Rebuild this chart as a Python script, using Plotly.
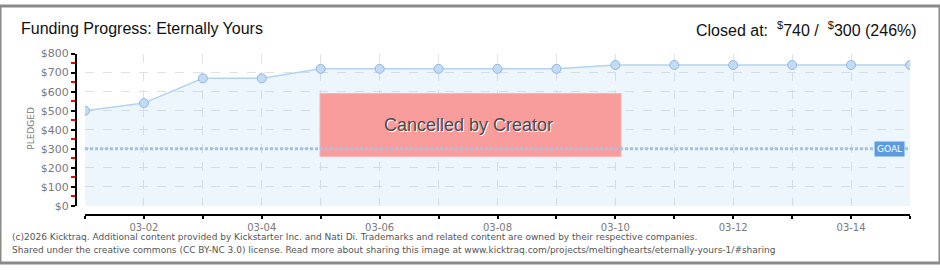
import plotly.graph_objects as go

# ---- data ----
dates = ["2026-03-01", "2026-03-02", "2026-03-03", "2026-03-04", "2026-03-05",
         "2026-03-06", "2026-03-07", "2026-03-08", "2026-03-09", "2026-03-10",
         "2026-03-11", "2026-03-12", "2026-03-13", "2026-03-14", "2026-03-15"]
pledged = [500, 540, 670, 670, 720, 720, 720, 720, 720, 740, 740, 740, 740, 740, 740]
goal = 300
closed_amount = 740
percent = 246
title_text = "Funding Progress: Eternally Yours"
status_text = "Cancelled by Creator"
footer1 = ("(c)2026 Kicktraq. Additional content provided by Kickstarter Inc. and Nati Di. "
           "Trademarks and related content are owned by their respective companies.")
footer2 = ("Shared under the creative commons (CC BY-NC 3.0) license. Read more about sharing "
           "this image at www.kicktraq.com/projects/meltinghearts/eternally-yours-1/#sharing")

W, H = 940, 270
DAY = 86400000
narrow = "Liberation Sans, Arial, sans-serif"
small = "DejaVu Sans, Verdana, sans-serif"

def px_x(p):
    return p / W

def px_y(p):
    return 1 - p / H

fig = go.Figure()

# main area + line
fig.add_trace(go.Scatter(
    x=dates, y=pledged, mode="lines+markers", fill="tozeroy",
    fillcolor="rgba(150,195,245,0.17)",
    line=dict(color="#b3d3f2", width=1.5),
    marker=dict(size=9, color="#c2dbf6", line=dict(color="#93b7de", width=1)),
    showlegend=False, hoverinfo="skip",
))
# dummy traces to bring up the offset tick axes
fig.add_trace(go.Scatter(x=dates, y=pledged, xaxis="x2", yaxis="y", mode="none",
                         showlegend=False, hoverinfo="skip"))
fig.add_trace(go.Scatter(x=dates, y=pledged, xaxis="x", yaxis="y2", mode="none",
                         showlegend=False, hoverinfo="skip"))

xdom = [px_x(85), px_x(910)]
ydom = [px_y(210), px_y(50)]
xr = [dates[0], dates[-1]]
yr = [0, 800]

fig.update_layout(
    width=W, height=H,
    margin=dict(l=0, r=0, t=0, b=0),
    paper_bgcolor="white", plot_bgcolor="white",
    xaxis=dict(domain=xdom, range=xr, type="date", showgrid=True, griddash="dash",
               gridcolor="#e1e1e1", gridwidth=1, dtick=DAY, tick0=dates[0],
               showticklabels=False, ticks="", showline=False, zeroline=False),
    yaxis=dict(domain=ydom, range=yr, showgrid=True, griddash="dash",
               gridcolor="#e1e1e1", gridwidth=1, dtick=100,
               showticklabels=False, ticks="", showline=False, zeroline=False),
    xaxis2=dict(overlaying="x", anchor="free", position=px_y(220), range=xr, type="date",
                showgrid=False, zeroline=False, showline=True, linecolor="black", linewidth=2,
                ticks="outside", ticklen=3, tickcolor="black", tickwidth=2,
                dtick=2 * DAY, tick0=dates[1], tickformat="%m-%d",
                tickfont=dict(family=small, size=10, color="#7a7a7a"),
                minor=dict(dtick=DAY, tick0=dates[0], ticks="outside", ticklen=3,
                           tickcolor="black", tickwidth=2, showgrid=False)),
    yaxis2=dict(overlaying="y", anchor="free", position=px_x(76), side="left", range=yr,
                showgrid=False, zeroline=False, showline=True, linecolor="black", linewidth=2,
                ticks="outside", ticklen=4, tickcolor="black", tickwidth=2,
                dtick=100, tickprefix="$",
                tickfont=dict(family=small, size=11, color="#7a7a7a"),
                minor=dict(dtick=50, ticks="outside", ticklen=4, tickcolor="red",
                           tickwidth=2, showgrid=False)),
)

shapes = [
    # cancelled box
    dict(type="rect", xref="paper", yref="paper",
         x0=px_x(320), x1=px_x(621), y0=px_y(158), y1=px_y(92),
         fillcolor="#f99c9c", line=dict(color="#f7b3b3", width=1), layer="above"),
    # goal line
    dict(type="line", xref="x", yref="y", x0=dates[0], x1=dates[-1], y0=goal, y1=goal,
         line=dict(color="#a3c2e6", width=3, dash="3px,2px"), layer="above"),
    # outer frame
    dict(type="rect", xref="paper", yref="paper", x0=0, x1=1, y0=0, y1=1,
         line=dict(color="#8a8a8a", width=3), fillcolor="rgba(0,0,0,0)", layer="above"),
]
fig.update_layout(shapes=shapes)

ann = [
    dict(text=title_text, xref="paper", yref="paper", x=px_x(19), y=px_y(24),
         xanchor="left", yanchor="middle", showarrow=False,
         font=dict(family=narrow, size=16, color="#111")),
    dict(text=f"Closed at:  <sup>$</sup>{closed_amount} /  <sup>$</sup>{goal} ({percent}%)",
         xref="paper", yref="paper", x=px_x(919), y=px_y(24),
         xanchor="right", yanchor="middle", showarrow=False,
         font=dict(family=narrow, size=16, color="#111")),
    dict(text="PLEDGED", xref="paper", yref="paper", x=px_x(31), y=px_y(129),
         xanchor="center", yanchor="middle", showarrow=False, textangle=-90,
         font=dict(family=small, size=9, color="#7a7a7a")),
    dict(text=status_text, xref="paper", yref="paper", x=px_x(468), y=px_y(125),
         xanchor="center", yanchor="middle", showarrow=False,
         font=dict(family=narrow, size=18, color="#4a4a4a", shadow="1px 1px 0px white")),
    dict(text="GOAL", xref="x", yref="y", x=dates[-1], y=goal, xshift=-5,
         xanchor="right", yanchor="middle", showarrow=False, bgcolor="#5b9bdf",
         borderpad=2, font=dict(family=small, size=9, color="white")),
    dict(text=footer1, xref="paper", yref="paper", x=px_x(10), y=px_y(243),
         xanchor="left", yanchor="middle", showarrow=False,
         font=dict(family=small, size=9, color="#555")),
    dict(text=footer2, xref="paper", yref="paper", x=px_x(10), y=px_y(256),
         xanchor="left", yanchor="middle", showarrow=False,
         font=dict(family=small, size=9, color="#555")),
]
fig.update_layout(annotations=ann)

fig.write_html("out.html")
